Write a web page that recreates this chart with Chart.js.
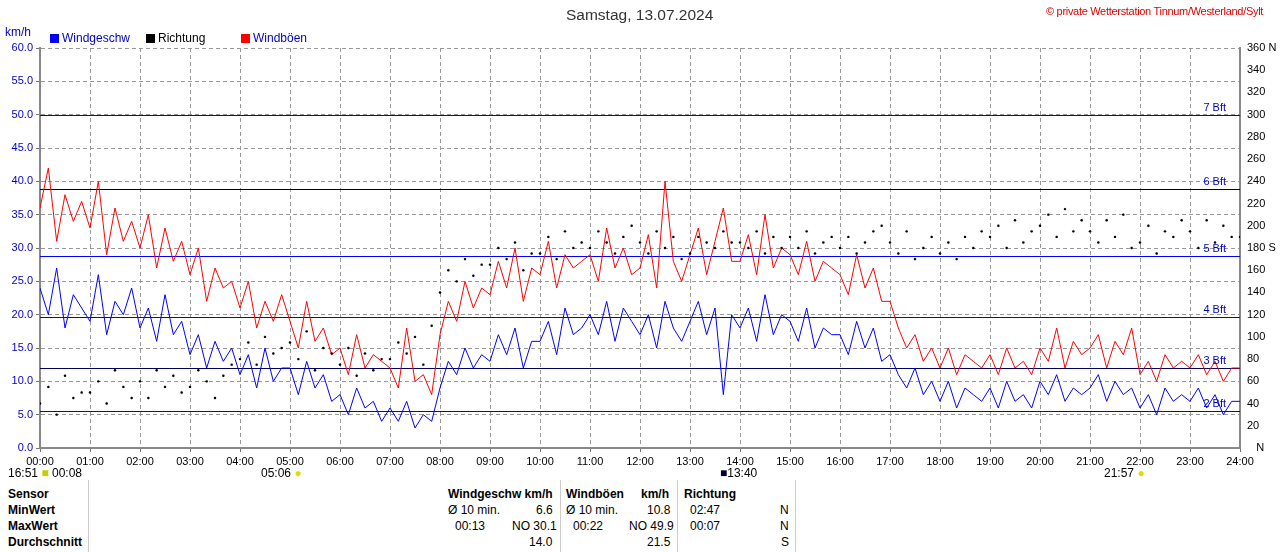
<!DOCTYPE html>
<html>
<head>
<meta charset="utf-8">
<script src="https://cdn.jsdelivr.net/npm/chart.js@4"></script>
<style>
  body { margin: 0; background: #fff; font-family: "Liberation Sans", Arial, sans-serif; }
  #wrap { position: relative; width: 1280px; height: 552px; overflow: hidden; }
  canvas { position: absolute; left: 0; top: 0; }
  .t { position: absolute; white-space: nowrap; font-size: 12px; }
  .b { font-weight: bold; }
  .sq { display: inline-block; width: 9px; height: 9px; margin-right: 3px; vertical-align: -1px; }
  .vl { position: absolute; top: 480px; width: 1px; height: 72px; background: #ccc; }
</style>
</head>
<body>
<div id="wrap">
  <canvas id="c" width="1280" height="480"></canvas>
  <div class="t" style="left:566px;top:6px;font-size:15.5px;color:#333">Samstag, 13.07.2024</div>
  <div class="t" style="left:1046px;top:5px;font-size:11px;letter-spacing:-0.3px;color:#e00000">© private Wetterstation Tinnum/Westerland/Sylt</div>
  <div class="t" style="left:5px;top:25px;color:#0000cc">km/h</div>
  <div class="t" style="left:50px;top:31px;color:#0000cc"><span class="sq" style="background:#0000ff"></span>Windgeschw</div>
  <div class="t" style="left:146px;top:31px;color:#000"><span class="sq" style="background:#000"></span>Richtung</div>
  <div class="t" style="left:241px;top:31px;color:#0000cc"><span class="sq" style="background:#ff0000"></span>Windböen</div>
  <div class="t" style="left:8px;top:466px">16:51 <span style="color:#cc0">■</span> 00:08</div>
  <div class="t" style="left:261px;top:466px">05:06 <span style="color:#dd0">●</span></div>
  <div class="t" style="left:720px;top:466px"><span style="color:#003">■</span>13:40</div>
  <div class="t" style="left:1104px;top:466px">21:57 <span style="color:#dd0">●</span></div>
  <div class="vl" style="left:88px"></div>
  <div class="vl" style="left:560px"></div>
  <div class="vl" style="left:677px"></div>
  <div class="vl" style="left:795px"></div>
  <div class="t b" style="left:8px;top:487px">Sensor</div>
  <div class="t b" style="left:8px;top:503px">MinWert</div>
  <div class="t b" style="left:8px;top:519px">MaxWert</div>
  <div class="t b" style="left:8px;top:535px">Durchschnitt</div>
  <div class="t b" style="left:448px;top:487px">Windgeschw km/h</div>
  <div class="t" style="left:448px;top:503px">Ø 10 min.</div>
  <div class="t" style="left:536px;top:503px">6.6</div>
  <div class="t" style="left:455px;top:519px">00:13</div>
  <div class="t" style="left:512px;top:519px">NO 30.1</div>
  <div class="t" style="left:529px;top:535px">14.0</div>
  <div class="t b" style="left:566px;top:487px">Windböen</div>
  <div class="t b" style="left:641px;top:487px">km/h</div>
  <div class="t" style="left:566px;top:503px">Ø 10 min.</div>
  <div class="t" style="left:647px;top:503px">10.8</div>
  <div class="t" style="left:573px;top:519px">00:22</div>
  <div class="t" style="left:629px;top:519px">NO 49.9</div>
  <div class="t" style="left:647px;top:535px">21.5</div>
  <div class="t b" style="left:684px;top:487px">Richtung</div>
  <div class="t" style="left:690px;top:503px">02:47</div>
  <div class="t" style="left:780px;top:503px">N</div>
  <div class="t" style="left:690px;top:519px">00:07</div>
  <div class="t" style="left:780px;top:519px">N</div>
  <div class="t" style="left:781px;top:535px">S</div>
</div>
<script>
// 10-minute samples from 00:00 to 24:00
const windSpeed = [
  24,20,27,18,23,21, 19,26,17,22,20,24, 18,21,16,23,17,19, 14,17,12,16,13,15,
  11,14,9,15,10,12, 12,8,13,9,11,7, 8,5,9,6,7,4, 6,4,7,3,5,4,
  9,13,11,15,12,14, 13,17,14,18,12,16, 16,19,14,21,17,18, 20,17,22,16,21,19,
  17,20,15,22,18,16, 19,22,17,21,8,20, 18,21,16,23,17,20, 19,16,21,15,18,17,
  17,14,19,15,18,13, 14,11,9,12,8,10, 7,10,6,9,8,7, 9,6,10,7,8,6,
  10,8,11,7,9,8, 9,11,7,10,8,9, 6,8,5,9,7,8, 7,9,6,8,5,7, 7
];
const windGust = [
  36,42,31,38,34,37, 33,40,29,36,31,34, 30,35,27,33,28,31, 26,30,22,27,24,25,
  21,25,18,22,19,23, 19,15,22,16,18,14, 15,11,17,12,14,13, 12,9,18,10,11,8,
  17,22,19,25,21,24, 23,28,24,30,22,27, 26,31,24,29,27,28, 29,25,33,27,30,26,
  27,32,24,40,28,25, 29,33,26,31,36,28, 28,32,26,35,27,30, 29,26,31,25,28,27,
  26,23,29,24,27,22, 22,18,15,17,13,15, 12,15,11,14,13,12, 14,11,15,12,13,11,
  15,13,18,12,16,14, 15,17,12,16,14,18, 11,13,10,14,12,13, 12,14,11,13,10,12, 12
];
const direction = [
  40,55,30,65,45,50, 50,60,40,70,55,45, 60,45,70,55,65,50, 55,70,60,45,65,75,
  80,95,75,100,85,90, 95,80,105,70,90,85, 75,90,65,85,70,80, 80,95,85,100,75,110,
  140,160,150,170,155,165, 165,180,170,185,160,175, 175,190,170,195,180,185, 180,195,185,175,190,200,
  185,175,195,180,190,170, 175,190,185,180,195,185, 185,180,195,175,190,180, 190,180,195,175,185,190,
  180,190,175,185,195,200, 185,175,195,170,180,190, 175,185,170,190,180,195, 190,200,180,205,185,195,
  200,210,190,215,195,205, 195,185,205,190,210,180, 185,200,175,195,190,205, 195,180,205,185,200,190, 190
];
const bftLevels = [5.5, 12, 19.7, 28.8, 38.9, 50];
const bftLabels = ["2 Bft", "3 Bft", "4 Bft", "5 Bft", "6 Bft", "7 Bft"];
const bftColors = ["#0000ff", "#000060", "#0000ff", "#0000ff", "#000000", "#0000ff"];

const toXY = (arr) => arr.map((v, i) => ({ x: i / 6, y: v }));

const bftPlugin = {
  id: "bft",
  beforeDatasetsDraw: (chart) => {
    const { ctx, chartArea, scales } = chart;
    ctx.save();
    bftLevels.forEach((lv, i) => {
      const y = Math.round(scales.y.getPixelForValue(lv)) + 0.5;
      ctx.strokeStyle = bftColors[i];
      ctx.lineWidth = 1;
      ctx.beginPath();
      ctx.moveTo(chartArea.left, y);
      ctx.lineTo(chartArea.right, y);
      ctx.stroke();
    });
    ctx.restore();
  },
  afterDatasetsDraw: (chart) => {
    const { ctx, chartArea, scales } = chart;
    ctx.save();
    ctx.font = "11px 'Liberation Sans', Arial, sans-serif";
    ctx.fillStyle = "#0000cc";
    ctx.textAlign = "right";
    bftLevels.forEach((lv, i) => {
      ctx.fillText(bftLabels[i], chartArea.right - 14, scales.y.getPixelForValue(lv) - 4);
    });
    ctx.restore();
  },
};

new Chart(document.getElementById("c"), {
  type: "scatter",
  data: {
    datasets: [
      { type: "scatter", data: toXY(direction), yAxisID: "y2", backgroundColor: "#000", pointRadius: 1.2, order: 0 },
      { type: "line", data: toXY(windSpeed), borderColor: "#0000ff", borderWidth: 1, pointRadius: 0, order: 1 },
      { type: "line", data: toXY(windGust), borderColor: "#ff0000", borderWidth: 1, pointRadius: 0, order: 2 },
    ],
  },
  options: {
    responsive: false,
    animation: false,
    layout: { padding: { top: 48, bottom: 0 } },
    plugins: { legend: { display: false }, tooltip: { enabled: false } },
    scales: {
      x: {
        type: "linear", min: 0, max: 24,
        afterFit: (s) => { s.height = 32; },
        ticks: { stepSize: 1, color: "#000", font: { size: 11 }, maxRotation: 0,
          callback: (v) => String(v % 24 === 0 && v > 0 ? 24 : v).padStart(2, "0") + ":00" },
        grid: { color: "#999", tickLength: 4, tickColor: "#777" },
        border: { color: "#888", width: 2, dash: [4, 3] },
      },
      y: {
        min: 0, max: 60,
        afterFit: (s) => { s.width = 40; },
        ticks: { stepSize: 5, color: "#0000cc", font: { size: 11 }, callback: (v) => v.toFixed(1) },
        grid: { color: "#999", tickLength: 4, tickColor: "#777" },
        border: { color: "#888", width: 2, dash: [4, 3] },
      },
      y2: {
        position: "right", min: 0, max: 360,
        afterFit: (s) => { s.width = 40; },
        ticks: { stepSize: 20, color: "#000", font: { size: 11 },
          callback: (v) => v === 360 ? "360 N" : v === 180 ? "180 S" : v === 0 ? "   N" : String(v) },
        grid: { display: false, tickLength: 4 },
        border: { color: "#888", width: 2 },
      },
    },
  },
  plugins: [bftPlugin],
});
</script>
</body>
</html>
